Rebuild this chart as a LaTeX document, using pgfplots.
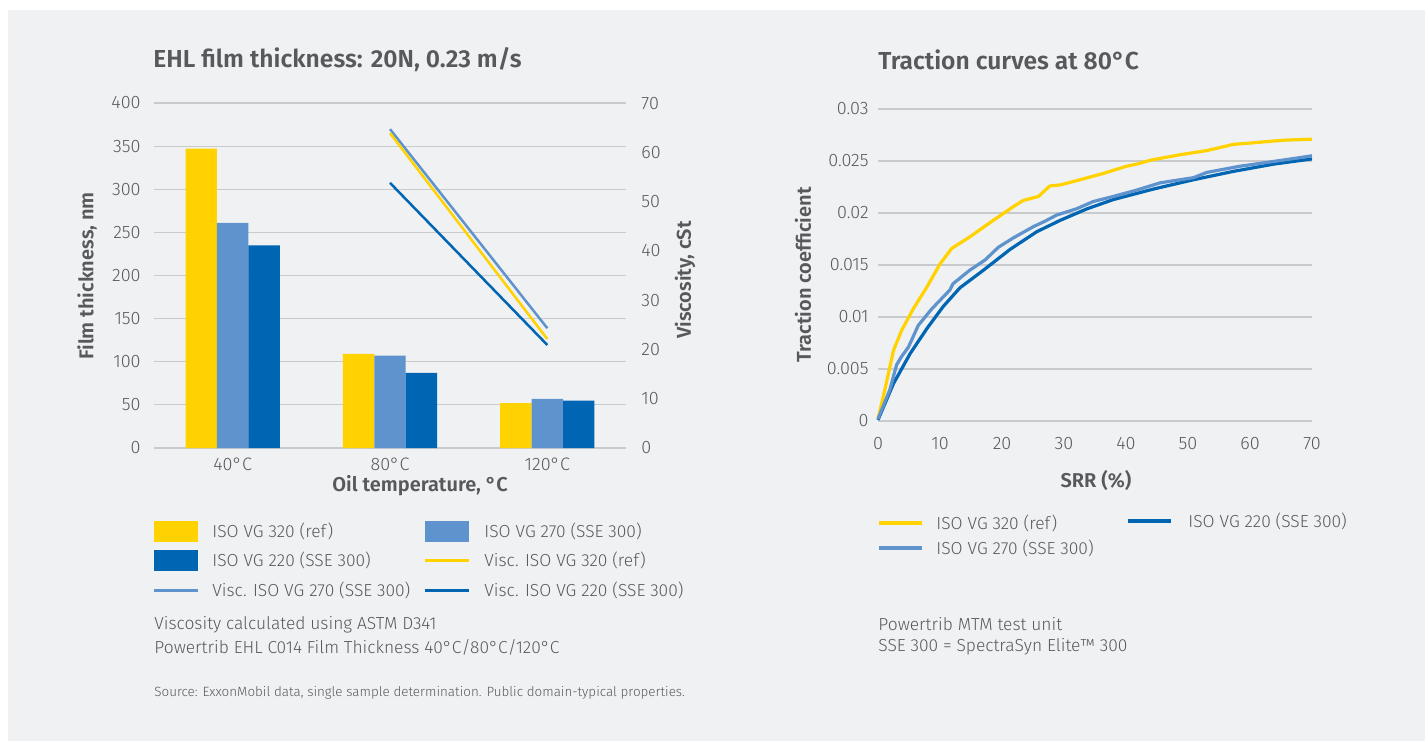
\documentclass[border=0pt]{standalone}
\usepackage{fontspec}
\setmainfont{Fira Sans}[UprightFont=* Light, BoldFont=* SemiBold]
\usepackage{pgfplots}
\pgfplotsset{compat=1.18}

\definecolor{bg}{HTML}{F0F1F3}
\definecolor{yel}{HTML}{FFD200}
\definecolor{lb}{HTML}{5F93CD}
\definecolor{db}{HTML}{0066B3}
\definecolor{gridc}{HTML}{C9CACC}
\definecolor{txt}{HTML}{58595B}

\newcommand{\tk}{\fontsize{9}{11}\selectfont}
\newcommand{\lgd}{\fontsize{8.7}{10}\selectfont}
\newcommand{\lab}{\fontsize{10}{12}\selectfont\bfseries}

\pgfplotsset{
  base/.style={
    scale only axis,
    axis line style={draw=none},
    tick style={draw=none},
    tick label style={font=\tk, text=txt},
    /pgf/number format/assume math mode=true,
    clip=false,
  },
}

\begin{document}
\begin{tikzpicture}[x=0.5pt,y=0.5pt]
% background: 1 unit = 1 px of the reference
\fill[white] (0,0) rectangle (1428,741);
\fill[bg] (8,0) rectangle (1425,731);

% ---------- left: film thickness bars ----------
\begin{axis}[base,
  at={(77pt,146.5pt)}, anchor=south west,
  width=236pt, height=172.5pt,
  xmin=-0.5, xmax=2.5, ymin=0, ymax=400,
  xtick={0,1,2}, xticklabels={40°C,80°C,120°C},
  ytick={0,50,...,400},
  ymajorgrids, grid style={gridc, line width=0.6pt},
  yticklabel style={anchor=east, inner sep=0pt, xshift=-6.5pt},
  xticklabel style={anchor=north, inner sep=0pt, yshift=-0.5pt},
  ybar=0pt, bar width=15.7pt,
]
\addplot[fill=yel, draw=none] coordinates {(0,347) (1,109) (2,52)};
\addplot[fill=lb, draw=none] coordinates {(0,261) (1,107) (2,57)};
\addplot[fill=db, draw=none] coordinates {(0,235) (1,87) (2,55)};
\end{axis}

% viscosity on the right axis
\begin{axis}[base,
  at={(77pt,146.5pt)}, anchor=south west,
  width=236pt, height=172.5pt,
  xmin=-0.5, xmax=2.5, ymin=0, ymax=70,
  axis y line*=right, axis x line=none,
  ytick={0,10,...,70},
  yticklabel style={anchor=west, inner sep=0pt, xshift=7.5pt},
]
\addplot[lb, line width=1.25pt] coordinates {(1,64.7) (2,24.3)};
\addplot[yel, line width=1.25pt] coordinates {(1,63.9) (2,22.1)};
\addplot[db, line width=1.25pt] coordinates {(1,53.8) (2,20.9)};
\end{axis}

% ---------- right: traction curves ----------
\begin{axis}[base,
  at={(439pt,160pt)}, anchor=south west,
  width=217pt, height=156pt,
  xmin=0, xmax=70, ymin=0, ymax=0.03,
  xtick={0,10,...,70},
  ytick={0,0.005,0.01,0.015,0.02,0.025,0.03},
  yticklabels={0,0.005,0.01,0.015,0.02,0.025,0.03},
  scaled y ticks=false,
  ymajorgrids, grid style={gridc, line width=0.6pt},
  yticklabel style={anchor=east, inner sep=0pt, xshift=-4.5pt},
  xticklabel style={anchor=north, inner sep=0pt, yshift=-8pt},
]
\addplot[yel, line width=1.6pt, line join=round] coordinates {
 (0,0.0002) (1.1,0.0030) (2.5,0.0068) (3.8,0.0087) (5.7,0.0108) (7.9,0.0129)
 (10.0,0.0151) (11.9,0.0166) (14.8,0.0177) (18.6,0.0193) (21.8,0.0206) (23.4,0.0212)
 (25.9,0.0216) (27.7,0.0226) (29.4,0.0227) (32.6,0.0232) (36.3,0.0238) (40.1,0.0245)
 (41.7,0.0247) (44.1,0.0251) (48.7,0.0256) (53.0,0.0260) (55.2,0.0263) (57.3,0.0266)
 (59.5,0.0267) (65.4,0.0270) (70,0.0271)};
\addplot[db, line width=1.6pt, line join=round] coordinates {
 (0,0.0001) (2.5,0.0036) (5.2,0.0065) (7.9,0.0089) (10.5,0.0110) (13.2,0.0128)
 (17.0,0.0145) (21.3,0.0165) (25.6,0.0182) (29.4,0.0193) (33.7,0.0204) (38.0,0.0213)
 (44.4,0.0223) (50.9,0.0232) (57.3,0.0240) (63.8,0.0247) (70,0.0252)};
\addplot[lb, line width=1.6pt, line join=round] coordinates {
 (0,0.0002) (1.9,0.0030) (3.0,0.0054) (3.8,0.0062) (4.9,0.0071) (6.5,0.0092)
 (8.7,0.0108) (11.6,0.0126) (12.1,0.0132) (14.8,0.0145) (17.3,0.0155) (19.4,0.0167)
 (21.8,0.0176) (25.1,0.0187) (26.9,0.0192) (28.8,0.0198) (32.0,0.0204) (34.7,0.0211)
 (38.0,0.0216) (41.7,0.0222) (45.5,0.0229) (50.9,0.0234) (53.0,0.0239) (58.4,0.0245)
 (64.3,0.0250) (70,0.0255)};
\end{axis}

% ---------- titles and axis labels ----------
\begin{scope}[every node/.style={text=txt, inner sep=0pt}]
\node[anchor=west, font=\fontsize{12.3}{14}\selectfont\bfseries] at (153,681) {EHL film thickness: 20N, 0.23 m/s};
\node[anchor=west, font=\fontsize{12.3}{14}\selectfont\bfseries] at (878,681) {Traction curves at 80°C};
\node[rotate=90, font=\lab] at (87,465) {Film thickness, nm};
\node[rotate=90, font=\lab] at (685,461) {Viscosity, cSt};
\node[font=\lab] at (420,255) {Oil temperature, °C};
\node[rotate=90, font=\lab] at (803,466) {Traction coefficient};
\node[font=\lab] at (1096,261) {SRR (\%)};

% left legend
\fill[yel] (154,199) rectangle (198,220);
\fill[lb] (425,199) rectangle (469,220);
\fill[db] (154,170) rectangle (198,191);
\draw[yel, line width=1.5pt] (425,181) -- (469,181);
\draw[lb, line width=1.5pt] (154,151) -- (198,151);
\draw[db, line width=1.5pt] (425,151) -- (469,151);
\begin{scope}[every node/.append style={anchor=west, font=\lgd}]
\node at (212,210) {ISO VG 320 (ref)};
\node at (484,210) {ISO VG 270 (SSE 300)};
\node at (212,181) {ISO VG 220 (SSE 300)};
\node at (484,181) {Visc. ISO VG 320 (ref)};
\node at (212,151) {Visc. ISO VG 270 (SSE 300)};
\node at (484,151) {Visc. ISO VG 220 (SSE 300)};
\node at (154,116) {Viscosity calculated using ASTM D341};
\node at (154,94) {Powertrib EHL C014 Film Thickness 40°C/80°C/120°C};
\node[font=\fontsize{6.7}{8}\selectfont] at (154,48) {Source: ExxonMobil data, single sample determination. Public domain-typical properties.};
% right legend
\node at (936,218) {ISO VG 320 (ref)};
\node at (1188,220) {ISO VG 220 (SSE 300)};
\node at (936,193) {ISO VG 270 (SSE 300)};
\node at (878,117) {Powertrib MTM test unit};
\node at (878,94) {SSE 300 = SpectraSyn Elite™ 300};
\end{scope}
\draw[yel, line width=2pt] (879,218) -- (922,218);
\draw[lb, line width=2pt] (879,193) -- (922,193);
\draw[db, line width=2pt] (1128,220) -- (1171,220);
\end{scope}
\end{tikzpicture}
\end{document}
